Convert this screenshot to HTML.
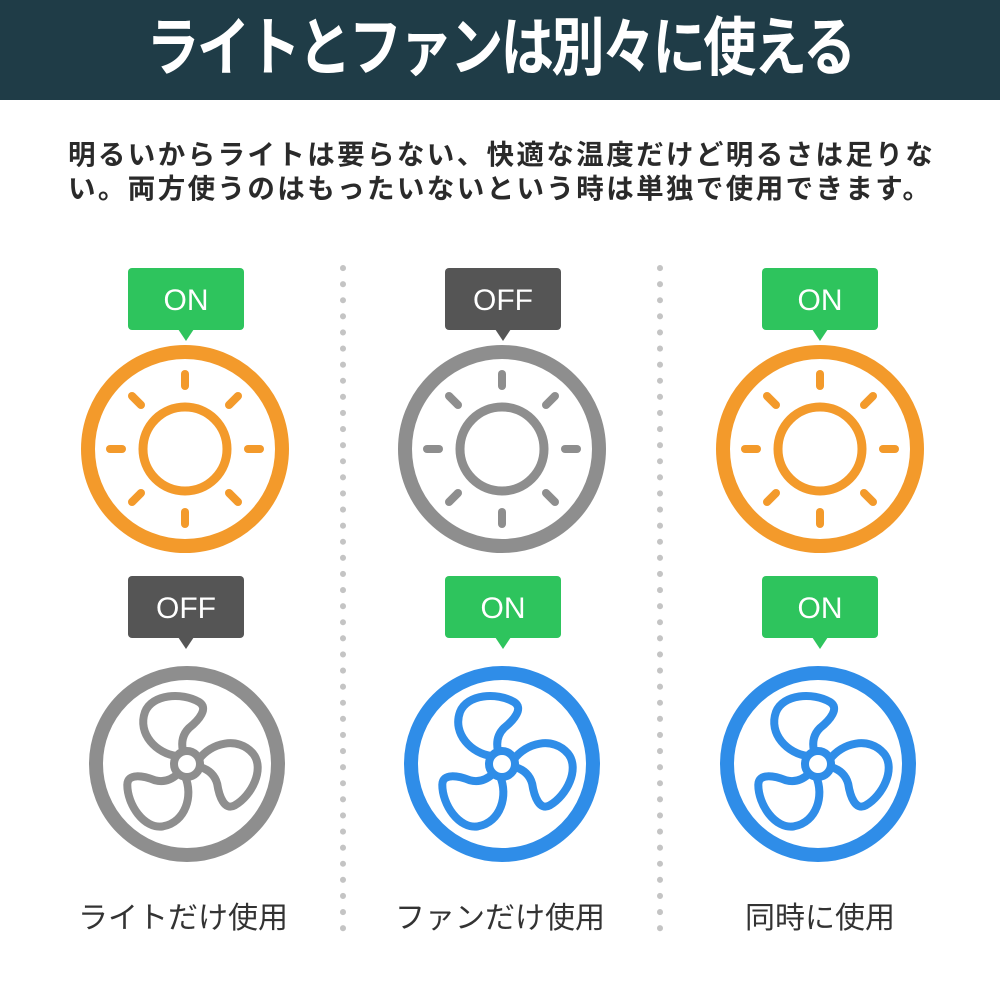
<!DOCTYPE html>
<html><head><meta charset="utf-8"><style>
body{margin:0;width:1000px;height:1000px;background:#fff;position:relative;overflow:hidden;font-family:"Liberation Sans","Noto Sans CJK JP",sans-serif}
.hdr{position:absolute;left:0;top:0;width:1000px;height:100px;background:#1f3c47}
.title{position:absolute;left:0;top:6px;width:1000px;text-align:center;color:#fff;font-weight:bold;font-size:64px;line-height:84px;letter-spacing:-3px;transform:scaleX(0.83)}
.body{position:absolute;left:68px;top:138px;width:940px;font-weight:bold;font-size:27.5px;line-height:34px;color:#2a2a2a;letter-spacing:2.4px;white-space:nowrap}
.lbl{position:absolute;top:893px;width:300px;text-align:center;font-size:30px;color:#333}
</style></head><body>
<div class="hdr"></div>
<div class="title">ライトとファンは別々に使える</div>
<div class="body">明るいからライトは要らない、快適な温度だけど明るさは足りな<br>い。両方使うのはもったいないという時は単独で使用できます。</div>
<svg width="1000" height="1000" style="position:absolute;left:0;top:0">
<defs>
<g id="sun">
<circle r="97" fill="none" stroke-width="14"/>
<circle r="42" fill="none" stroke-width="9"/>
<g stroke-width="8" stroke-linecap="round">
<line x1="0" y1="-63" x2="0" y2="-75"/><line x1="0" y1="63" x2="0" y2="75"/>
<line x1="-63" y1="0" x2="-75" y2="0"/><line x1="63" y1="0" x2="75" y2="0"/>
<line x1="44" y1="44" x2="53" y2="53"/><line x1="-44" y1="44" x2="-53" y2="53"/>
<line x1="44" y1="-44" x2="53" y2="-53"/><line x1="-44" y1="-44" x2="-53" y2="-53"/>
</g></g>
<path id="blade" d="M-10,-8 C-30,-10 -50,-30 -42,-52 C-35,-70 -5,-72 12,-62 C22,-56 12,-44 2,-36 C-4,-30 -6,-22 -4,-13" fill="none" stroke-width="8" stroke-linejoin="round"/>
<g id="fan">
<circle r="91" fill="none" stroke-width="14"/>
<circle r="13" fill="none" stroke-width="8"/>
<use href="#blade"/><use href="#blade" transform="rotate(120)"/><use href="#blade" transform="rotate(240)"/>
</g>
<g id="on"><rect x="-58" y="0" width="116" height="62" rx="4" fill="#2ec45d"/><path d="M-8,61 l8,12 l8,-12z" fill="#2ec45d"/><text x="0" y="42" text-anchor="middle" font-family="Liberation Sans" font-size="30" fill="#fff">ON</text></g>
<g id="off"><rect x="-58" y="0" width="116" height="62" rx="4" fill="#555"/><path d="M-8,61 l8,12 l8,-12z" fill="#555"/><text x="0" y="42" text-anchor="middle" font-family="Liberation Sans" font-size="30" fill="#fff">OFF</text></g>
</defs>
<line x1="343" y1="268" x2="343" y2="930" stroke="#c4c4c4" stroke-width="6" stroke-dasharray="0.1 16" stroke-linecap="round"/>
<line x1="660" y1="268" x2="660" y2="930" stroke="#c4c4c4" stroke-width="6" stroke-dasharray="0.1 16" stroke-linecap="round"/>
<use href="#on" x="186" y="268"/><use href="#off" x="503" y="268"/><use href="#on" x="820" y="268"/>
<use href="#off" x="186" y="576"/><use href="#on" x="503" y="576"/><use href="#on" x="820" y="576"/>
<g stroke="#f39a2b"><use href="#sun" x="185" y="449"/><use href="#sun" x="820" y="449"/></g>
<g stroke="#8e8e8e"><use href="#sun" x="502" y="449"/><use href="#fan" x="187" y="764"/></g>
<g stroke="#2f8de8"><use href="#fan" x="502" y="764"/><use href="#fan" x="818" y="764"/></g>
</svg>
<div class="lbl" style="left:33px">ライトだけ使用</div>
<div class="lbl" style="left:350px">ファンだけ使用</div>
<div class="lbl" style="left:670px">同時に使用</div>
</body></html>
